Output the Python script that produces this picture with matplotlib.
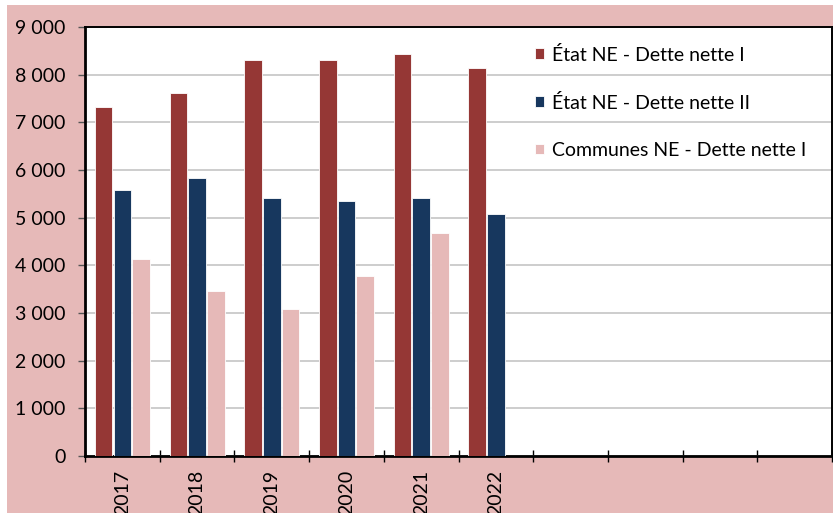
import matplotlib
matplotlib.use("Agg")
import matplotlib.pyplot as plt
import numpy as np
from matplotlib.patches import Rectangle
from matplotlib.ticker import FuncFormatter, MultipleLocator, FixedLocator

plt.rcParams['font.family'] = ['Lato', 'DejaVu Sans']

# dette nette en millions de CHF
years = ['2017', '2018', '2019', '2020', '2021', '2022']
n_slots = 10  # axe prévu pour 10 années
etat_dette_1 = [7330, 7620, 8310, 8300, 8430, 8130]
etat_dette_2 = [5580, 5840, 5415, 5350, 5420, 5080]
communes_dette_1 = [4140, 3470, 3080, 3780, 4675]

labels = ['État NE - Dette nette I', 'État NE - Dette nette II', 'Communes NE - Dette nette I']
colors = ['#953735', '#17375E', '#E6B9B8']
bg = '#E6B9B8'

fig = plt.figure(figsize=(8.33, 5.13), dpi=100, facecolor='white')
fig.patches.append(Rectangle((7 / 833, 0), 1, 1 - 5 / 513, transform=fig.transFigure,
                             facecolor=bg, edgecolor='none', zorder=-1))
ax = fig.add_axes([85 / 833, 57 / 513, 747 / 833, 429 / 513])
ax.set_facecolor('white')

w = 0.235
step = 0.25
for k, (vals, lab, col) in enumerate(zip([etat_dette_1, etat_dette_2, communes_dette_1], labels, colors)):
    x = np.arange(len(vals)) + 0.5 + (k - 1) * step
    ax.bar(x, vals, width=w, color=col, edgecolor='white', linewidth=0.6, label=lab, zorder=3)

ax.set_xlim(0, n_slots)
ax.set_ylim(0, 9000)
ax.yaxis.set_major_locator(MultipleLocator(1000))
ax.yaxis.set_major_formatter(FuncFormatter(lambda v, p: f"{int(v):,}".replace(',', ' ')))
ax.grid(axis='y', color='#C0C0C0', linewidth=1.1, zorder=0)

ax.xaxis.set_major_locator(FixedLocator(np.arange(len(years)) + 0.5))
ax.set_xticklabels(years, rotation=90)
ax.xaxis.set_minor_locator(FixedLocator(np.arange(n_slots + 1)))
ax.tick_params(axis='x', which='major', length=0, pad=10, labelsize=14)
ax.tick_params(axis='x', which='minor', direction='inout', length=9, width=1, color='black')
ax.tick_params(axis='y', length=5, width=1, color='#555555', pad=9, labelsize=14)

for s in ax.spines.values():
    s.set_color('black')
    s.set_linewidth(1.4)
ax.spines['left'].set_linewidth(2)
ax.spines['bottom'].set_linewidth(2)

leg = ax.legend(loc='upper left', bbox_to_anchor=(0.592, 0.975), frameon=False,
                fontsize=14, handlelength=0.45, handleheight=0.45, handletextpad=0.4,
                labelspacing=1.55, borderaxespad=0)

fig.savefig('out.png', dpi=100, facecolor=fig.get_facecolor())
